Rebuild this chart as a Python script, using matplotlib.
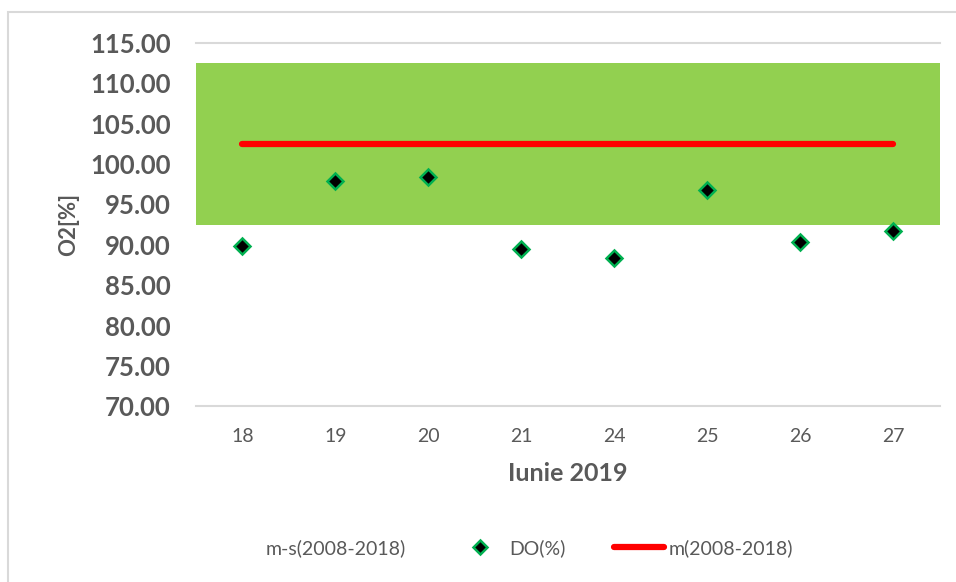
import numpy as np
import matplotlib
matplotlib.use("Agg")
import matplotlib.pyplot as plt
from matplotlib.lines import Line2D
from matplotlib.patches import Rectangle

plt.rcParams['font.family'] = ['Lato', 'DejaVu Sans']

# data
days = ['18', '19', '20', '21', '24', '25', '26', '27']
do_pct = [89.9, 97.9, 98.4, 89.5, 88.4, 96.8, 90.3, 91.7]
m_mean = [102.5] * 8          # m(2008-2018)
m_minus_s = [92.5] * 8        # m-s(2008-2018)
two_s = [20.0] * 8            # band height (2s)

grey = '#595959'
green = '#92d050'

fig = plt.figure(figsize=(9.56, 5.82), dpi=100)
ax = fig.add_axes([0.205, 0.302, 0.778, 0.624])

x = np.arange(len(days))
# stacked area: invisible base m-s, green 2s on top, stretched to plot edges
xe = np.r_[x[0] - 0.5, x, x[-1] + 0.5]
lo = np.r_[m_minus_s[0], m_minus_s, m_minus_s[-1]]
hi = lo + np.r_[two_s[0], two_s, two_s[-1]]
ax.fill_between(xe, lo, hi, color=green, lw=0, zorder=1)

ax.plot(x, m_mean, color='#ff0000', lw=4.5, solid_capstyle='round', zorder=3)
ax.plot(x, do_pct, ls='none', marker='D', ms=8, mfc='black',
        mec='#00b050', mew=1.8, zorder=4)

ax.set_xlim(-0.5, len(days) - 0.5)
ax.set_ylim(70, 115)
ax.set_yticks(np.arange(70, 116, 5))
ax.yaxis.set_major_formatter(matplotlib.ticker.FormatStrFormatter('%.2f'))
ax.set_xticks(x)
ax.set_xticklabels(days)

for s in ['left', 'right', 'top']:
    ax.spines[s].set_visible(False)
ax.spines['bottom'].set_color('#d9d9d9')
ax.spines['bottom'].set_linewidth(1.5)
ax.axhline(115, color='#d9d9d9', lw=1.5, zorder=0, clip_on=False)

ax.tick_params(axis='y', length=0, pad=18, labelsize=18.5, labelcolor=grey)
ax.tick_params(axis='x', length=0, pad=16, labelsize=14, labelcolor=grey)
for t in ax.get_yticklabels():
    t.set_fontweight('bold')

ax.set_ylabel('O2[%]', fontsize=16, fontweight='bold', color=grey, labelpad=8)
ax.set_xlabel('Iunie 2019', fontsize=18, fontweight='bold', color=grey, labelpad=12)

handles = [
    Rectangle((0, 0), 1, 1, fc='none', ec='none'),
    Line2D([], [], ls='none', marker='D', ms=7, mfc='black', mec='#00b050', mew=1.8),
    Line2D([], [], color='#ff0000', lw=4.5, solid_capstyle='round'),
]
labels = ['m-s(2008-2018)', 'DO(%)', 'm(2008-2018)']
leg = fig.legend(handles, labels, loc='center', bbox_to_anchor=(0.525, 0.058),
                 ncol=3, frameon=False, fontsize=14, handlelength=2.6,
                 handletextpad=0.2, columnspacing=2.5)
for t in leg.get_texts():
    t.set_color(grey)

# chart area border
fig.patches.append(Rectangle((8 / 956, -0.1), 1.2, 1 - 12 / 582 + 0.1,
                             transform=fig.transFigure, fill=False,
                             ec='#d9d9d9', lw=1.5))

fig.savefig('out.png', dpi=100)
